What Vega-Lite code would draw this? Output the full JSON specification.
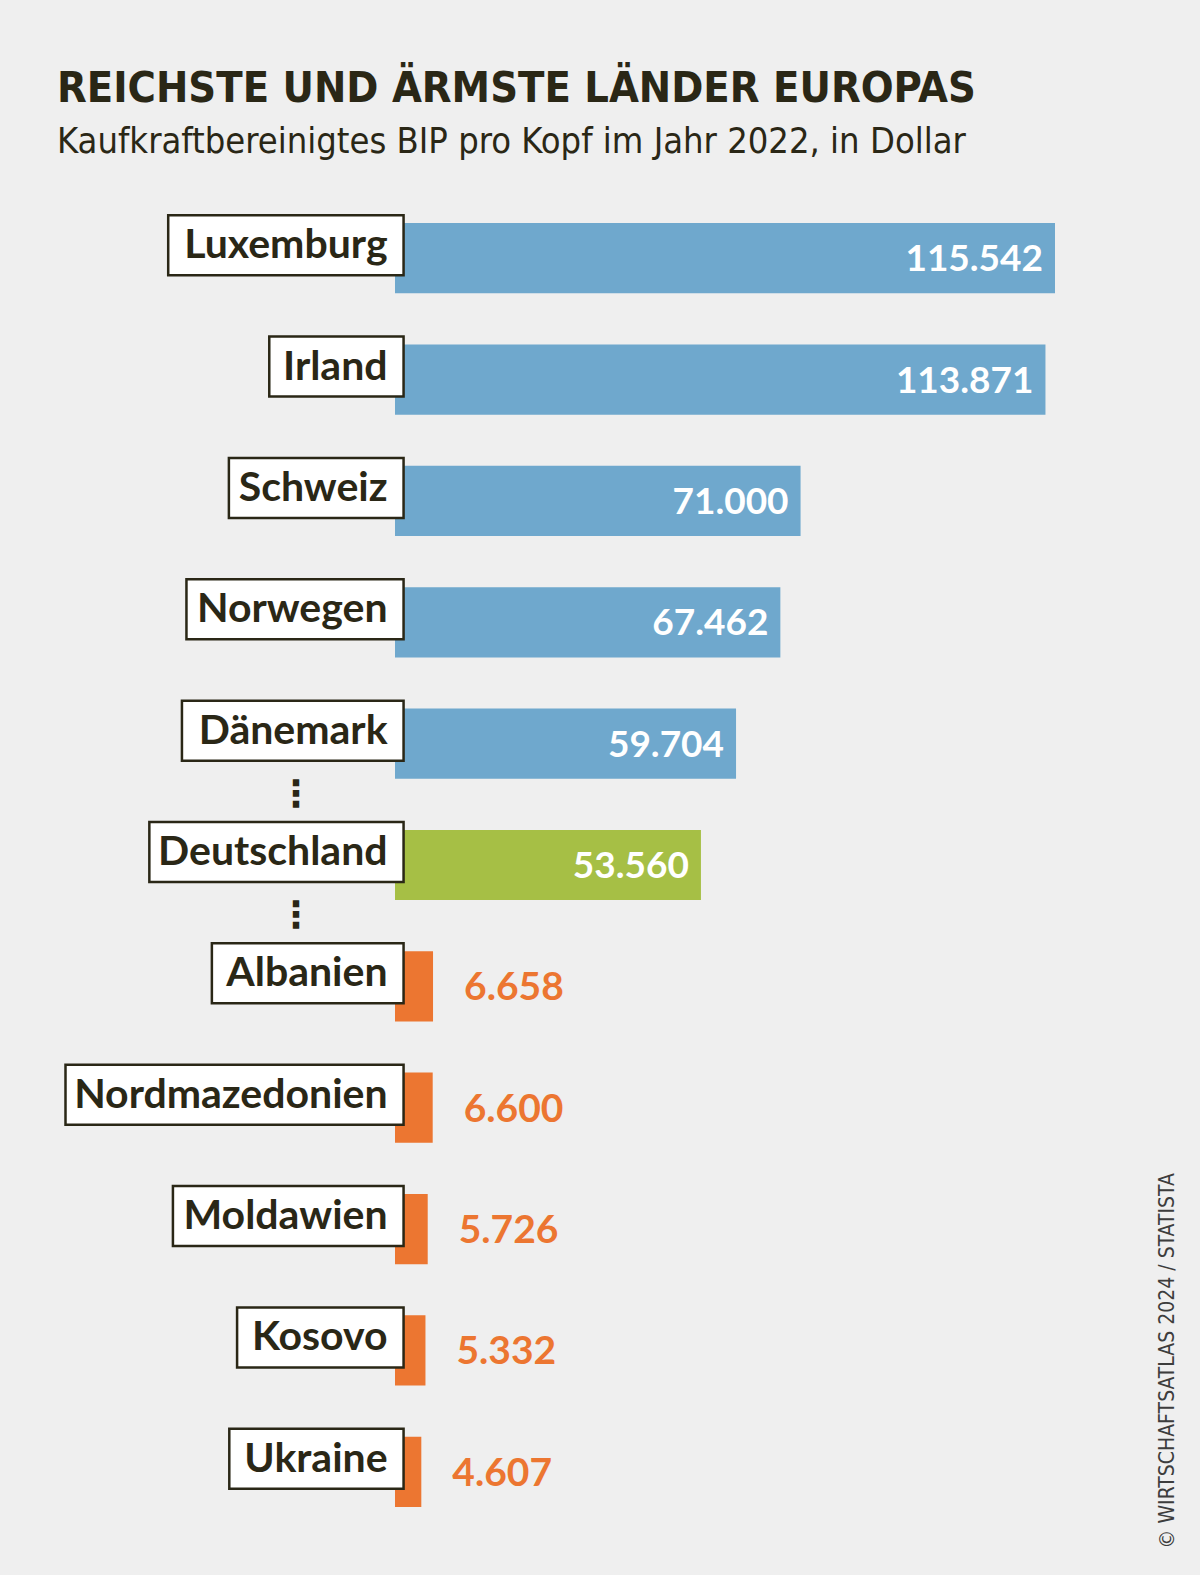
{
  "$schema": "https://vega.github.io/schema/vega-lite/v6.json",
  "width": 1200,
  "height": 1370,
  "padding": {"top": 68, "bottom": 25, "left": 0, "right": 0},
  "background": "#efefef",
  "config": {
    "view": {"stroke": null},
    "locale": {"number": {"decimal": ",", "thousands": ".", "grouping": [3], "currency": ["", " $"]}}
  },
  "title": {
    "text": "REICHSTE UND ÄRMSTE LÄNDER EUROPAS",
    "subtitle": "Kaufkraftbereinigtes BIP pro Kopf im Jahr 2022, in Dollar",
    "anchor": "start",
    "dx": 57,
    "font": "Liberation Sans Narrow, DejaVu Sans Condensed, Roboto Condensed, Roboto",
    "fontSize": 43,
    "fontWeight": "bold",
    "color": "#2a2716",
    "subtitleFont": "Liberation Sans Narrow, DejaVu Sans Condensed, Roboto Condensed, Roboto",
    "subtitleFontSize": 36,
    "subtitleFontWeight": "normal",
    "subtitleColor": "#2a2716",
    "subtitlePadding": 14,
    "offset": 20
  },
  "data": {
    "values": [
      {"country": "Luxemburg", "value": 115542, "group": "reich", "gap": false},
      {"country": "Irland", "value": 113871, "group": "reich", "gap": false},
      {"country": "Schweiz", "value": 71000, "group": "reich", "gap": false},
      {"country": "Norwegen", "value": 67462, "group": "reich", "gap": false},
      {"country": "Dänemark", "value": 59704, "group": "reich", "gap": true},
      {"country": "Deutschland", "value": 53560, "group": "deutschland", "gap": true},
      {"country": "Albanien", "value": 6658, "group": "arm", "gap": false},
      {"country": "Nordmazedonien", "value": 6600, "group": "arm", "gap": false},
      {"country": "Moldawien", "value": 5726, "group": "arm", "gap": false},
      {"country": "Kosovo", "value": 5332, "group": "arm", "gap": false},
      {"country": "Ukraine", "value": 4607, "group": "arm", "gap": false}
    ]
  },
  "transform": [
    {"calculate": "length(replace(datum.country, regexp('[^Iilj]', 'g'), ''))", "as": "cA"},
    {"calculate": "length(replace(datum.country, regexp('[^rtf]', 'g'), ''))", "as": "cB"},
    {"calculate": "length(replace(datum.country, regexp('[^csz]', 'g'), ''))", "as": "cC"},
    {"calculate": "length(replace(datum.country, regexp('[^mM]', 'g'), ''))", "as": "cD"},
    {"calculate": "length(replace(datum.country, regexp('[^wW]', 'g'), ''))", "as": "cE"},
    {"calculate": "length(replace(datum.country, regexp('[^SL]', 'g'), ''))", "as": "cS"},
    {"calculate": "length(replace(datum.country, regexp('[^ABCDEFGHJKNOPQRTUVXYZÄÖÜ]', 'g'), ''))", "as": "cF"},
    {"calculate": "length(datum.country) - datum.cA - datum.cB - datum.cC - datum.cD - datum.cE - datum.cS - datum.cF", "as": "cG"},
    {"calculate": "41 * (0.26 * datum.cA + 0.37 * datum.cB + 0.44 * datum.cC + 0.88 * datum.cD + 0.77 * datum.cE + 0.5 * datum.cS + 0.7 * datum.cF + 0.535 * datum.cG)", "as": "tw"},
    {"calculate": "1500 - (datum.tw + 32) / 0.0057122", "as": "boxLeft"}
  ],
  "encoding": {
    "y": {
      "field": "country",
      "type": "nominal",
      "sort": null,
      "scale": {"paddingInner": 0.4215, "paddingOuter": 0.355},
      "axis": {
        "orient": "right",
        "labels": false,
        "ticks": false,
        "domain": false,
        "grid": false,
        "title": "© WIRTSCHAFTSATLAS 2024 / STATISTA",
        "titleAngle": 270,
        "titleX": -33,
        "titleY": 1368,
        "titleAlign": "left",
        "titleBaseline": "middle",
        "titleFont": "Liberation Sans Narrow, DejaVu Sans Condensed, Roboto Condensed, Roboto",
        "titleFontSize": 21,
        "titleFontWeight": "normal",
        "titleColor": "#3d3d3d"
      }
    }
  },
  "layer": [
    {
      "mark": {"type": "bar"},
      "encoding": {
        "x": {
          "field": "value",
          "type": "quantitative",
          "scale": {"domain": [-69150, 140926], "zero": false, "nice": false},
          "axis": null
        },
        "color": {
          "field": "group",
          "type": "nominal",
          "scale": {"domain": ["reich", "deutschland", "arm"], "range": ["#6fa8cd", "#a6bf45", "#ec7631"]},
          "legend": null
        }
      }
    },
    {
      "mark": {"type": "bar", "height": 60, "yOffset": -13, "fill": "#ffffff", "stroke": "#2a2716", "strokeWidth": 2.5},
      "encoding": {
        "x": {"field": "boxLeft", "type": "quantitative"},
        "x2": {"datum": 1500}
      }
    },
    {
      "mark": {"type": "text", "align": "right", "baseline": "middle", "dx": -16, "dy": -12, "font": "Lato", "fontWeight": "bold", "fontSize": 41, "color": "#2a2716"},
      "encoding": {
        "x": {"datum": 1500, "type": "quantitative"},
        "text": {"field": "country"}
      }
    },
    {
      "transform": [{"filter": "datum.value > 20000"}],
      "mark": {"type": "text", "align": "right", "baseline": "middle", "dx": -12, "dy": 2, "font": "Lato", "fontWeight": "bold", "fontSize": 37, "color": "#ffffff"},
      "encoding": {
        "x": {"field": "value", "type": "quantitative"},
        "text": {"field": "value", "type": "quantitative", "format": ",d"}
      }
    },
    {
      "transform": [{"filter": "datum.value <= 20000"}],
      "mark": {"type": "text", "align": "left", "baseline": "middle", "dx": 31, "dy": 2, "font": "Lato", "fontWeight": "bold", "fontSize": 39, "color": "#ec7631"},
      "encoding": {
        "x": {"field": "value", "type": "quantitative"},
        "text": {"field": "value", "type": "quantitative", "format": ",d"}
      }
    },
    {
      "transform": [{"filter": "datum.gap"}],
      "mark": {"type": "text", "align": "center", "baseline": "middle", "dy": 51, "font": "DejaVu Sans", "fontWeight": "bold", "fontSize": 36, "color": "#2a2716"},
      "encoding": {
        "x": {"datum": -17330, "type": "quantitative"},
        "text": {"value": "⋮"}
      }
    }
  ]
}
